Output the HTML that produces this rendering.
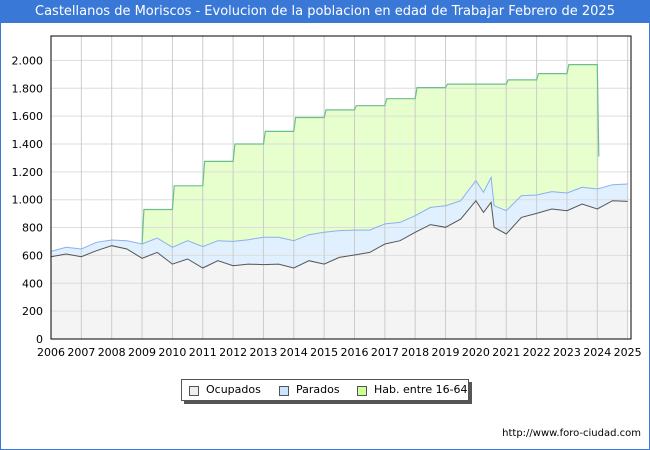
<!DOCTYPE html>
<html><head><meta charset="utf-8"><style>
body{margin:0;background:#fff;font-family:"DejaVu Sans","Liberation Sans",sans-serif;}
#wrap{position:relative;width:648px;height:448px;border:1px solid #3a78d8;overflow:hidden;background:#fff}
#title{position:absolute;left:0;top:0;width:648px;height:22px;background:#3a78d8;color:#fff;font-size:13px;line-height:22px;text-align:center;white-space:nowrap}
#legend{position:absolute;left:180px;top:378px;width:286px;height:20px;border:1px solid #555;box-shadow:3px 3px 0 #555;background:#fff;font-size:11px;line-height:20px;white-space:nowrap}
#legend span{white-space:nowrap}
.sw{position:absolute;top:6px;width:8px;height:8px;border:1px solid #555}
#url{position:absolute;right:8px;top:427px;font-size:10px;color:#000}
</style></head><body>
<div id="wrap">
<div id="title">Castellanos de Moriscos - Evolucion de la poblacion en edad de Trabajar Febrero de 2025</div>
<svg id="chart" width="648" height="448" style="position:absolute;left:0;top:0"></svg>
<div id="legend">
<span class="sw" style="left:7px;background:#eee"></span><span style="position:absolute;left:24px">Ocupados</span>
<span class="sw" style="left:97px;background:#cce4ff"></span><span style="position:absolute;left:114px">Parados</span>
<span class="sw" style="left:175px;background:#ccff99"></span><span style="position:absolute;left:192px">Hab. entre 16-64</span>
</div>
<div id="url">http://www.foro-ciudad.com</div>
</div>
<script>
const times=[2006,2006.5,2007,2007.5,2008,2008.5,2009,2009.5,2010,2010.5,2011,2011.5,2012,2012.5,2013,2013.5,2014,2014.5,2015,2015.5,2016,2016.5,2017,2017.5,2018,2018.5,2019,2019.5,2020,2020.25,2020.5,2020.6,2021,2021.5,2022,2022.5,2023,2023.5,2024,2024.5,2025];
const ocupados=[591,610,591,634,670,646,579,622,538,574,510,562,526,538,534,538,510,562,538,586,603,622,682,706,766,821,802,861,993,909,981,802,754,873,902,933,921,969,933,993,988];
const parados=[38,48,55,60,41,60,103,103,120,132,153,144,175,175,196,192,196,187,228,192,179,160,144,131,119,124,155,132,144,144,179,155,167,156,132,125,127,120,144,115,125];
const habYears=[2009,2010,2011,2012,2013,2014,2015,2016,2017,2018,2019,2020,2021,2022,2023];
const habValues=[930,1100,1275,1400,1490,1590,1645,1675,1725,1805,1830,1830,1860,1905,1970];
const habEnd=1310;
const yTicks=[0,200,400,600,800,1000,1200,1400,1600,1800,2000];
const xTicks=[2006,2007,2008,2009,2010,2011,2012,2013,2014,2015,2016,2017,2018,2019,2020,2021,2022,2023,2024,2025];
const L=50,R=630,T=35,B=338;
const X=t=>L+(t-2006)*30.35, Y=v=>B-v*0.1393;
const svg=document.getElementById('chart');const NS='http://www.w3.org/2000/svg';
function mk(tag,a,name){const e=document.createElementNS(NS,tag);for(const k in a)e.setAttribute(k,a[k]);


svg.appendChild(e);return e;}
mk('rect',{x:L,y:T,width:R-L,height:B-T,fill:'#fff'},'plot-area');
const hp=[];habYears.forEach((y,i)=>{hp.push([X(y),Y(i?habValues[i-1]:ocupados[6]+parados[6])]);hp.push([X(y+0.06),Y(habValues[i])]);hp.push([X(y+1),Y(habValues[i])]);});
hp.push([X(2024.05),Y(habEnd)]);
const upperPts=times.map((t,i)=>[X(t),Y(ocupados[i]+parados[i])]);
const ocPts=times.map((t,i)=>[X(t),Y(ocupados[i])]);
const s=p=>p.map(q=>q[0].toFixed(1)+','+q[1].toFixed(1)).join(' ');
mk('polygon',{points:s(hp)+' '+X(2024.05)+','+B+' '+X(2009)+','+B,fill:'#e6ffcc'},'hab-area');
mk('polygon',{points:s(upperPts)+' '+X(2025)+','+B+' '+L+','+B,fill:'#e0f0ff'},'parados-area');
mk('polygon',{points:s(ocPts)+' '+X(2025)+','+B+' '+L+','+B,fill:'#f4f4f4'},'ocupados-area');
yTicks.forEach(v=>{mk('line',{x1:L,x2:R,y1:Y(v),y2:Y(v),stroke:'#ddd'},'y-gridline');
const t=mk('text',{x:L-8,y:Y(v)+4,'text-anchor':'end','font-size':'11'},'y-tick-label');t.textContent=v.toLocaleString('de-DE');});
xTicks.forEach(v=>{mk('line',{x1:X(v),x2:X(v),y1:T,y2:B,stroke:'#ccc'},'x-gridline');
const t=mk('text',{x:X(v),y:B+17,'text-anchor':'middle','font-size':'11'},'x-tick-label');t.textContent=v;});
mk('polyline',{points:s(hp),fill:'none',stroke:'#6cbf8c','stroke-width':1.2},'hab-line');
mk('polyline',{points:s(upperPts),fill:'none',stroke:'#8ab0ee','stroke-width':1},'parados-line');
mk('polyline',{points:s(ocPts),fill:'none',stroke:'#555','stroke-width':1},'ocupados-line');
mk('rect',{x:L,y:T,width:R-L,height:B-T,fill:'none',stroke:'#000'},'plot-frame');
</script>
</body></html>
